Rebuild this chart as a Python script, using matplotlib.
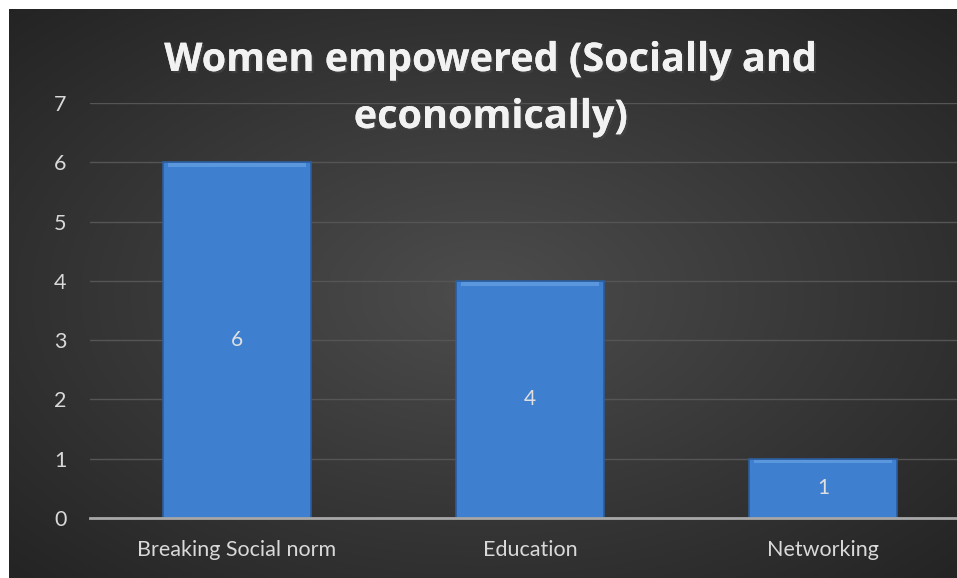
import numpy as np
import matplotlib
matplotlib.use("Agg")
import matplotlib.pyplot as plt
import matplotlib.patheffects as pe

# data
categories = ["Breaking Social norm", "Education", "Networking"]
values = [6, 4, 1]
y_ticks = [0, 1, 2, 3, 4, 5, 6, 7]
title = "Women empowered (Socially and\neconomically)"

W, H = 957, 578
fig = plt.figure(figsize=(W / 100, H / 100), dpi=100)
fig.patch.set_facecolor("white")

# dark radial background (Excel style)
bg = fig.add_axes([9 / W, 0, (W - 9) / W, (H - 9) / H])
bg.set_axis_off()
yy, xx = np.mgrid[0:300, 0:500]
cx, cy = 250, 150
r = np.sqrt(((xx - cx) / 250) ** 2 + ((yy - cy) / 150) ** 2) / np.sqrt(2)
shade = 0.30 - 0.16 * np.clip(r, 0, 1)
img = np.dstack([shade, shade, shade])
bg.imshow(img, aspect="auto", extent=[0, 1, 0, 1], interpolation="bilinear")
bg.set_xlim(0, 1)
bg.set_ylim(0, 1)

ax = fig.add_axes([90 / W, 60 / H, (W - 90) / W, 415 / H])
ax.patch.set_alpha(0)
x = np.arange(len(categories))
bars = ax.bar(x, values, width=0.505, color="#3f7fcf", edgecolor="#2c5d9c",
              linewidth=1.2, zorder=3)
for b, v in zip(bars, values):
    ax.text(b.get_x() + b.get_width() / 2, v / 2, str(v), ha="center", va="center",
            color="#e0e0e0", fontsize=15, family="Lato", zorder=4)
    # lighter bevel at the top of each bar
    ax.bar(b.get_x() + b.get_width() / 2, 0.06, bottom=v - 0.08, width=b.get_width() * 0.93,
           color="#5b97dd", linewidth=0, zorder=3.5)

ax.set_xlim(-0.5, 2.456)
ax.set_ylim(0, 7)
ax.set_yticks(y_ticks)
ax.set_xticks(x)
ax.set_xticklabels(categories)
ax.grid(axis="y", color="#555555", linewidth=1, zorder=0)
ax.set_axisbelow(True)
for s in ["top", "right", "left"]:
    ax.spines[s].set_visible(False)
ax.spines["bottom"].set_color("#a8a8a8")
ax.spines["bottom"].set_linewidth(2)
ax.spines["bottom"].set_zorder(5)
ax.tick_params(axis="both", length=0, colors="#d9d9d9", labelsize=15.5)
ax.tick_params(axis="y", pad=17)
ax.tick_params(axis="x", pad=16)
for lab in ax.get_xticklabels() + ax.get_yticklabels():
    lab.set_family("Lato")

fig.text(491 / W, 1 - 89 / H, title, ha="center", va="center", color="#f2f2f2",
         fontsize=28.5, fontweight="bold", family="Open Sans", linespacing=1.6,
         path_effects=[pe.withSimplePatchShadow(offset=(1.5, -1.5), alpha=0.6), pe.Normal()])

fig.savefig("out.png", dpi=100)
